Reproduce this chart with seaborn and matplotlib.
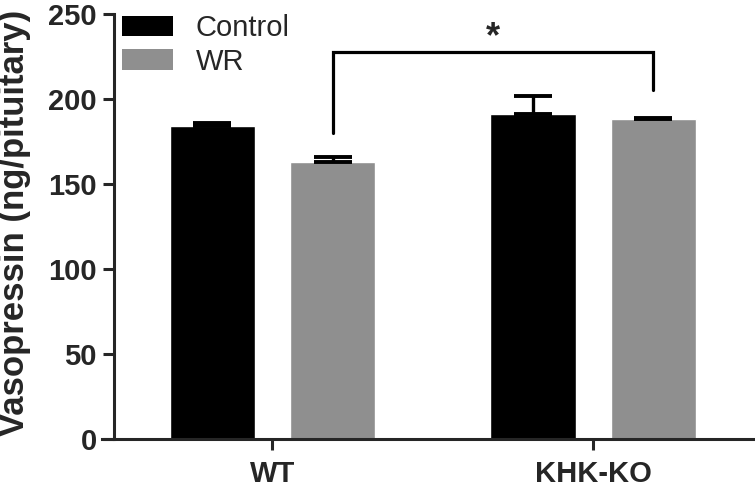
import matplotlib
matplotlib.use("Agg")
import matplotlib.pyplot as plt
from matplotlib.patches import Patch
import seaborn as sns
import pandas as pd
import numpy as np

# values
genotypes = ["WT", "KHK-KO"]
conditions = ["Control", "WR"]
control_mean = [184, 191]
control_sem = [2, 10.5]
wr_mean = [163, 188]
wr_sem = [3, 0.6]
bar_colors = {"Control": "#000000", "WR": "#8f8f8f"}

# significance bracket: WT/WR vs KHK-KO/WR
bracket_y = 227.5
bracket_left_bottom = 180
bracket_right_bottom = 205.3
star_y = 236

rows = []
for i, g in enumerate(genotypes):
    rows.append({"genotype": g, "condition": "Control", "value": control_mean[i]})
    rows.append({"genotype": g, "condition": "WR", "value": wr_mean[i]})
df = pd.DataFrame(rows)

sns.set_style("ticks")
plt.rcParams["font.family"] = ["Liberation Sans", "DejaVu Sans"]

fig = plt.figure(figsize=(7.55, 4.88), dpi=100)
ax = fig.add_axes([0.1351, 0.1004, 0.8649, 0.8709])

sns.barplot(data=df, x="genotype", y="value", hue="condition", order=genotypes,
            hue_order=conditions, palette=bar_colors, width=0.75, gap=0.29,
            errorbar=None, saturation=1, ax=ax, legend=False)

# one-sided SEM error bars (upwards only)
sems = {"Control": control_sem, "WR": wr_sem}
centers = {}
for cond, cont in zip(conditions, ax.containers):
    xs = [p.get_x() + p.get_width() / 2 for p in cont]
    ys = [p.get_height() for p in cont]
    centers[cond] = xs
    err = sems[cond]
    ax.errorbar(xs, ys, yerr=[np.zeros(len(err)), err], fmt="none",
                ecolor="black", elinewidth=2.4, capsize=14, capthick=2.8, zorder=1)

# bracket + star
x_left = centers["WR"][0]
x_right = centers["WR"][1]
ax.plot([x_left, x_left, x_right, x_right],
        [bracket_left_bottom, bracket_y, bracket_y, bracket_right_bottom],
        color="black", lw=2.3, solid_joinstyle="miter", clip_on=False)
ax.text((x_left + x_right) / 2, star_y, "*", ha="center", va="center",
        fontsize=26, fontweight="bold")

ax.set_xlim(-0.531, 1.504)
ax.set_ylim(0, 250)
ax.set_yticks([0, 50, 100, 150, 200, 250])
ax.set_xlabel("")
ax.set_ylabel("Vasopressin (ng/pituitary)", fontsize=25, fontweight="bold")
ax.yaxis.set_label_coords(-0.108, 0.508)

sns.despine(ax=ax)
ax.spines["left"].set_position(("data", -0.495))
for s in ["left", "bottom"]:
    ax.spines[s].set_linewidth(2.2)
ax.tick_params(axis="both", width=2.2, length=8, labelsize=21)
ax.tick_params(axis="y", pad=4)
ax.tick_params(axis="x", pad=7)
for lab in ax.get_xticklabels() + ax.get_yticklabels():
    lab.set_fontweight("bold")

handles = [Patch(facecolor=bar_colors[c], edgecolor="none", label=c) for c in conditions]
ax.legend(handles=handles, loc="upper left", bbox_to_anchor=(0.03, 1.0),
          frameon=False, fontsize=21, handlelength=1.75, handleheight=0.7,
          handletextpad=0.8, labelspacing=0.2, borderpad=0, borderaxespad=0)

fig.savefig("out.png", dpi=100)
